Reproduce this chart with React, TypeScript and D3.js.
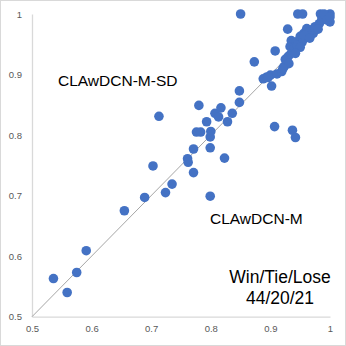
import React, { useEffect, useRef } from "react";
import * as d3 from "d3";

// accuracy of CLAwDCN-M (x) vs CLAwDCN-M-SD (y), one entry per dataset
const mAcc = [
  0.536, 0.559, 0.575, 0.591, 0.655, 0.689, 0.703, 0.724, 0.735, 0.713,
  0.761, 0.762, 0.771, 0.771, 0.776, 0.783, 0.780, 0.793, 0.799, 0.800,
  0.799, 0.799, 0.807, 0.813, 0.817, 0.823, 0.828, 0.836, 0.848, 0.848,
  0.850, 0.873, 0.888, 0.894, 0.900, 0.902, 0.908, 0.907, 0.911, 0.919,
  0.923, 0.928, 0.930, 0.929, 0.935, 0.937, 0.942, 0.939, 0.946, 0.954,
  0.944, 0.953, 0.956, 0.961, 0.969, 0.975, 0.982, 0.984, 0.992, 1.000,
  1.000, 0.997, 0.972, 0.950, 0.933, 0.925, 0.935, 0.940, 0.945, 0.955,
  0.960, 0.965, 0.975, 0.980, 0.986, 0.990, 0.995, 1.000, 0.957, 0.966,
  0.950, 0.942, 0.931, 0.921, 0.896,
];
const sdAcc = [
  0.563, 0.540, 0.573, 0.609, 0.675, 0.697, 0.749, 0.705, 0.719, 0.831,
  0.761, 0.755, 0.738, 0.777, 0.805, 0.805, 0.849, 0.822, 0.797, 0.806,
  0.779, 0.699, 0.836, 0.830, 0.845, 0.762, 0.822, 0.836, 0.854, 0.873,
  1.000, 0.921, 0.893, 0.896, 0.899, 0.881, 0.939, 0.814, 0.901, 0.905,
  0.913, 0.921, 0.930, 0.975, 0.956, 0.808, 0.796, 0.941, 1.000, 1.000,
  0.954, 0.953, 0.968, 0.976, 0.974, 0.979, 0.984, 1.000, 0.993, 1.000,
  0.987, 0.996, 0.968, 0.963, 0.946, 0.925, 0.935, 0.945, 0.948, 0.958,
  0.965, 0.970, 0.975, 0.975, 0.990, 1.000, 0.990, 0.995, 0.965, 0.960,
  0.945, 0.935, 0.918, 0.910, 0.895,
];
const xTicks = [0.5, 0.6, 0.7, 0.8, 0.9, 1];
const yTicks = [0.5, 0.6, 0.7, 0.8, 0.9, 1];
const winTieLose = [44, 20, 21];

export default function App() {
  const svgRef = useRef<SVGSVGElement>(null);

  useEffect(() => {
    if (!svgRef.current) return;
    const width = 346;
    const height = 346;
    const svg = d3.select(svgRef.current);
    svg.selectAll("*").remove();

    const x = d3.scaleLinear().domain([0.5, 1]).range([32, 330]);
    const y = d3.scaleLinear().domain([0.5, 1]).range([316.7, 14]);

    svg.append("rect")
      .attr("width", width)
      .attr("height", height)
      .attr("fill", "#fff");
    svg.append("rect")
      .attr("x", 0.5).attr("y", 0.5)
      .attr("width", width - 1).attr("height", height - 1)
      .attr("fill", "none")
      .attr("stroke", "#d9d9d9");

    // axes
    const xAxis = svg.append("g")
      .attr("transform", `translate(0,${y(0.5)})`)
      .call(d3.axisBottom(x).tickValues(xTicks).tickSize(0).tickPadding(9).tickFormat(d => String(d)));
    const yAxis = svg.append("g")
      .attr("transform", `translate(${x(0.5)},0)`)
      .call(d3.axisLeft(y).tickValues(yTicks).tickSize(0).tickPadding(10).tickFormat(d => String(d)));

    [xAxis, yAxis].forEach(ax => {
      ax.select(".domain").attr("stroke", "#d9d9d9").attr("stroke-width", 1.3);
      ax.selectAll("text")
        .attr("fill", "#595959")
        .attr("font-size", "9.5px")
        .attr("font-family", "Liberation Sans, Arial, sans-serif");
    });

    // diagonal y = x
    svg.append("line")
      .attr("x1", x(0.5)).attr("y1", y(0.5))
      .attr("x2", x(1)).attr("y2", y(1))
      .attr("stroke", "#a6a6a6")
      .attr("stroke-width", 1);

    // points
    svg.append("g")
      .selectAll("circle")
      .data(mAcc.map((v, i) => [v, sdAcc[i]]))
      .enter()
      .append("circle")
      .attr("cx", d => x(d[0]))
      .attr("cy", d => y(d[1]))
      .attr("r", 4.8)
      .attr("fill", "#4472c4");

    // annotations
    const font = "Liberation Sans, Arial, sans-serif";
    svg.append("text")
      .attr("x", 58).attr("y", 86)
      .attr("font-size", "15.5px")
      .attr("font-family", font)
      .attr("fill", "#000")
      .text("CLAwDCN-M-SD");
    svg.append("text")
      .attr("x", 210).attr("y", 224)
      .attr("font-size", "15.5px")
      .attr("font-family", font)
      .attr("fill", "#000")
      .text("CLAwDCN-M");
    svg.append("text")
      .attr("x", 280).attr("y", 283)
      .attr("text-anchor", "middle")
      .attr("font-size", "17.5px")
      .attr("font-family", font)
      .attr("fill", "#000")
      .text("Win/Tie/Lose");
    svg.append("text")
      .attr("x", 280).attr("y", 304)
      .attr("text-anchor", "middle")
      .attr("font-size", "17.5px")
      .attr("font-family", font)
      .attr("fill", "#000")
      .text(winTieLose.join("/"));
  }, []);

  return (
    <svg
      ref={svgRef}
      width={346}
      height={346}
      style={{ position: "absolute", left: 0, top: 0, display: "block" }}
    />
  );
}
